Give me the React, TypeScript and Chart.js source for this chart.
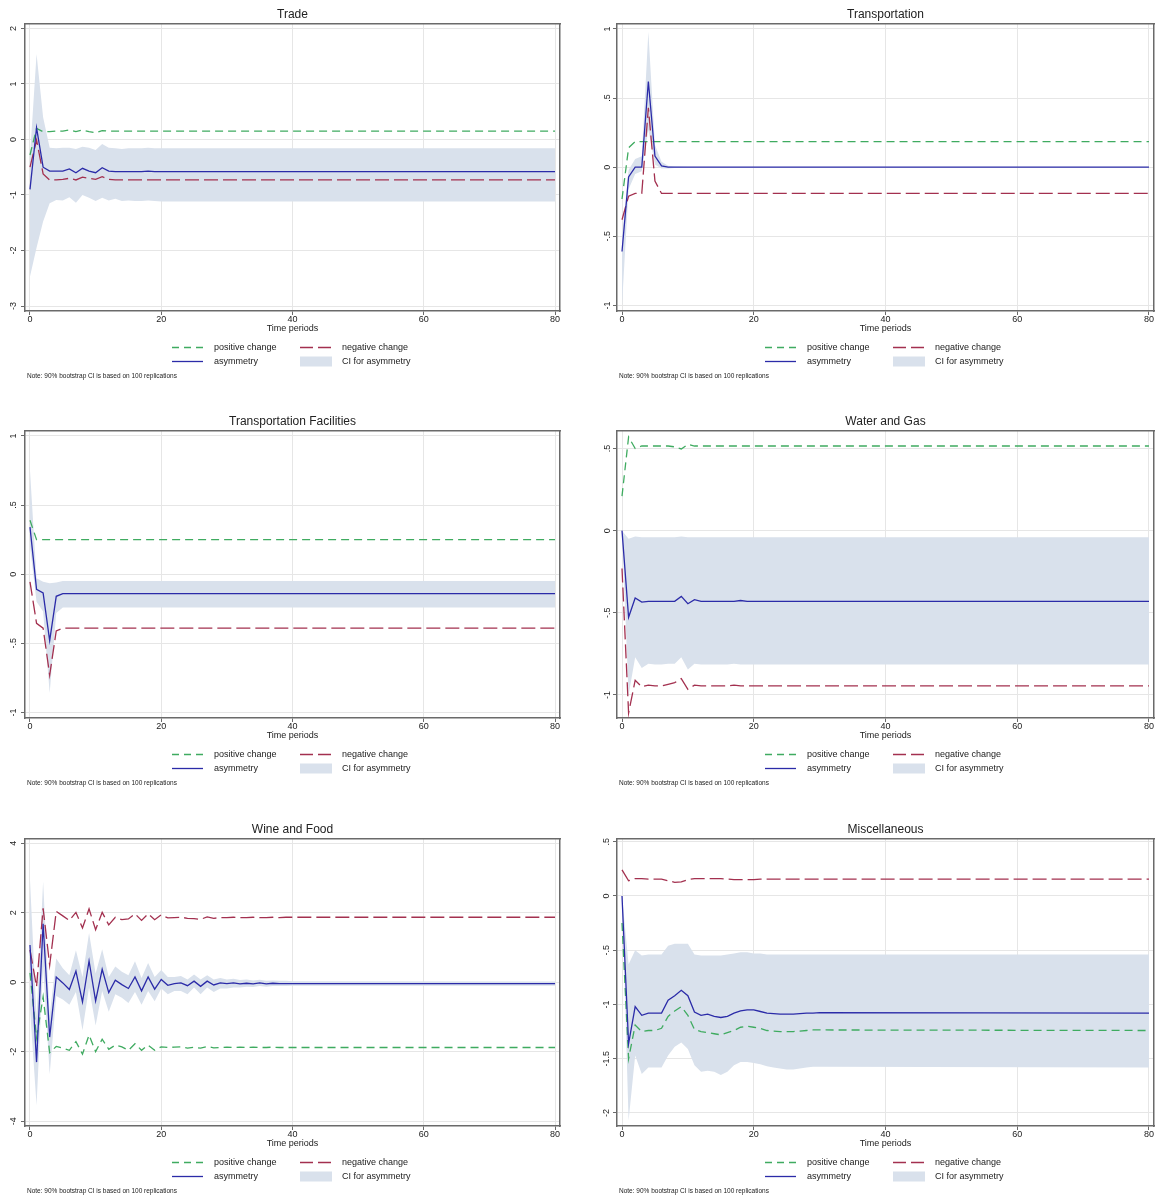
import React, { useEffect, useRef } from 'react';
import { Chart, registerables } from 'chart.js';

Chart.register(...registerables);

const FONT = '"Liberation Sans", Arial, Helvetica, sans-serif';
const GREEN = '#3fab60';
const RED = '#a3304f';
const BLUE = '#2b2ba8';
const BAND = '#d9e1ec';
const GRID = '#e6e6e6';
const AXIS = '#6a6a6a';
const TEXT = '#222';

const legendLabels = ['positive change', 'negative change', 'asymmetry', 'CI for asymmetry'];
const noteText = 'Note: 90% bootstrap CI is based on 100 replications';
const xTitle = 'Time periods';

// ---------- Trade ----------
const tradePeriods = [0, 1, 2, 3, 4, 5, 6, 7, 8, 9, 10, 11, 12, 13, 14, 15, 16, 17, 18, 19, 20, 80];
const tradePositive = [-0.28, 0.2, 0.14, 0.14, 0.15, 0.15, 0.17, 0.14, 0.17, 0.14, 0.12, 0.16, 0.15, 0.15, 0.15, 0.15, 0.15, 0.15, 0.15, 0.15, 0.15, 0.15];
const tradeNegative = [-0.5, -0.01, -0.62, -0.73, -0.73, -0.72, -0.7, -0.73, -0.68, -0.7, -0.72, -0.67, -0.72, -0.73, -0.73, -0.73, -0.73, -0.73, -0.73, -0.73, -0.73, -0.73];
const tradeAsymmetry = [-0.9, 0.21, -0.5, -0.57, -0.57, -0.57, -0.53, -0.6, -0.52, -0.57, -0.6, -0.51, -0.57, -0.58, -0.58, -0.58, -0.58, -0.58, -0.57, -0.58, -0.58, -0.58];
const tradeCiUpper = [-0.3, 1.54, 0.4, -0.15, -0.16, -0.15, -0.15, -0.17, -0.13, -0.15, -0.19, -0.08, -0.15, -0.16, -0.17, -0.16, -0.16, -0.16, -0.15, -0.16, -0.16, -0.16];
const tradeCiLower = [-2.47, -1.95, -1.48, -1.15, -1.09, -1.1, -1.04, -1.14, -1.0, -1.05, -1.11, -1.05, -1.1, -1.07, -1.11, -1.1, -1.11, -1.11, -1.1, -1.11, -1.12, -1.12];

// ---------- Transportation ----------
const transPeriods = [0, 1, 2, 3, 4, 5, 6, 7, 8, 9, 10, 80];
const transPositive = [-0.23, 0.14, 0.185, 0.185, 0.185, 0.185, 0.185, 0.185, 0.185, 0.185, 0.185, 0.185];
const transNegative = [-0.38, -0.21, -0.19, -0.19, 0.43, -0.1, -0.19, -0.19, -0.19, -0.19, -0.19, -0.19];
const transAsymmetry = [-0.61, -0.07, 0.0, 0.0, 0.62, 0.08, 0.01, 0.0, 0.0, 0.0, 0.0, 0.0];
const transCiUpper = [-0.5, -0.02, 0.06, 0.08, 0.98, 0.16, 0.04, 0.01, 0.005, 0.003, 0.002, 0.002];
const transCiLower = [-1.0, -0.16, -0.05, -0.03, 0.27, 0.02, -0.01, -0.01, -0.005, -0.003, -0.002, -0.002];

// ---------- Transportation Facilities ----------
const facPeriods = [0, 1, 2, 3, 4, 5, 6, 7, 8, 9, 10, 80];
const facPositive = [0.39, 0.25, 0.25, 0.25, 0.25, 0.25, 0.25, 0.25, 0.25, 0.25, 0.25, 0.25];
const facNegative = [-0.055, -0.355, -0.39, -0.73, -0.41, -0.39, -0.39, -0.39, -0.39, -0.39, -0.39, -0.39];
const facAsymmetry = [0.34, -0.11, -0.135, -0.48, -0.16, -0.14, -0.14, -0.14, -0.14, -0.14, -0.14, -0.14];
const facCiUpper = [0.75, -0.03, -0.055, -0.065, -0.06, -0.05, -0.05, -0.05, -0.05, -0.05, -0.05, -0.05];
const facCiLower = [0.2, -0.2, -0.27, -0.86, -0.28, -0.24, -0.24, -0.24, -0.24, -0.24, -0.24, -0.24];

// ---------- Water and Gas ----------
const waterPeriods = [0, 1, 2, 3, 4, 5, 6, 7, 8, 9, 10, 11, 12, 13, 14, 15, 16, 17, 18, 19, 20, 80];
const waterPositive = [0.21, 0.57, 0.5, 0.515, 0.515, 0.515, 0.515, 0.515, 0.51, 0.497, 0.525, 0.515, 0.515, 0.515, 0.515, 0.515, 0.515, 0.515, 0.515, 0.515, 0.515, 0.515];
const waterNegative = [-0.23, -1.11, -0.91, -0.95, -0.94, -0.945, -0.945, -0.935, -0.925, -0.9, -0.965, -0.94, -0.945, -0.945, -0.945, -0.945, -0.945, -0.94, -0.945, -0.945, -0.945, -0.945];
const waterAsymmetry = [0.0, -0.527, -0.41, -0.435, -0.43, -0.43, -0.43, -0.43, -0.43, -0.4, -0.445, -0.42, -0.43, -0.43, -0.43, -0.43, -0.43, -0.43, -0.425, -0.43, -0.43, -0.43];
const waterCiUpper = [0.0, -0.05, -0.035, -0.04, -0.04, -0.04, -0.04, -0.04, -0.04, -0.035, -0.04, -0.04, -0.04, -0.04, -0.04, -0.04, -0.04, -0.04, -0.04, -0.04, -0.04, -0.04];
const waterCiLower = [0.0, -1.0, -0.77, -0.835, -0.81, -0.815, -0.815, -0.81, -0.81, -0.77, -0.845, -0.81, -0.815, -0.815, -0.815, -0.815, -0.815, -0.81, -0.815, -0.815, -0.815, -0.815];

// ---------- Wine and Food ----------
const winePeriods = [0, 1, 2, 3, 4, 5, 6, 7, 8, 9, 10, 11, 12, 13, 14, 15, 16, 17, 18, 19, 20, 21, 22, 23, 24, 25, 26, 27, 28, 29, 30, 31, 32, 33, 34, 35, 36, 37, 38, 39, 40, 80];
const winePositive = [0.27, -1.6, -0.42, -2.03, -1.85, -1.9, -1.96, -1.71, -2.07, -1.52, -2.0, -1.64, -1.93, -1.81, -1.86, -1.96, -1.77, -1.96, -1.81, -1.96, -1.86, -1.88, -1.87, -1.86, -1.9, -1.87, -1.9, -1.85, -1.89, -1.88, -1.87, -1.88, -1.87, -1.88, -1.87, -1.88, -1.88, -1.87, -1.88, -1.88, -1.88, -1.88];
const wineNegative = [0.93, -0.13, 2.13, 0.49, 2.04, 1.91, 1.78, 2.01, 1.56, 2.11, 1.51, 2.01, 1.65, 1.87, 1.8, 1.82, 1.97, 1.78, 1.97, 1.8, 1.94, 1.85, 1.86, 1.87, 1.84, 1.83, 1.81, 1.88, 1.84, 1.86, 1.86, 1.87, 1.86, 1.86, 1.87, 1.86, 1.86, 1.87, 1.86, 1.87, 1.87, 1.87];
const wineAsymmetry = [1.07, -2.3, 1.68, -1.58, 0.15, -0.02, -0.21, 0.32, -0.57, 0.61, -0.54, 0.37, -0.3, 0.06, -0.07, -0.18, 0.15, -0.25, 0.15, -0.2, 0.08, -0.09, -0.04, -0.02, -0.1, 0.03, -0.12, 0.03, -0.08, -0.02, -0.04, -0.02, -0.05, -0.03, -0.05, -0.02, -0.05, -0.03, -0.04, -0.04, -0.04, -0.04];
const wineCiUpper = [2.95, -1.0, 2.9, -0.95, 0.68, 0.4, 0.2, 0.92, 0.15, 1.42, 0.25, 0.95, 0.15, 0.45, 0.3, 0.2, 0.6, 0.12, 0.55, 0.15, 0.35, 0.15, 0.15, 0.18, 0.08, 0.22, 0.08, 0.2, 0.08, 0.12, 0.08, 0.1, 0.06, 0.08, 0.05, 0.07, 0.04, 0.05, 0.04, 0.04, 0.03, 0.02];
const wineCiLower = [-0.75, -3.55, 0.45, -2.65, -0.4, -0.5, -0.65, -0.28, -1.38, -0.15, -1.25, -0.25, -0.85, -0.35, -0.45, -0.6, -0.28, -0.65, -0.25, -0.55, -0.18, -0.35, -0.25, -0.25, -0.35, -0.15, -0.35, -0.15, -0.28, -0.18, -0.18, -0.15, -0.15, -0.13, -0.14, -0.11, -0.13, -0.11, -0.11, -0.11, -0.1, -0.1];

// ---------- Miscellaneous ----------
const miscPeriods = [0, 1, 2, 3, 4, 5, 6, 7, 8, 9, 10, 11, 12, 13, 14, 15, 16, 17, 18, 19, 20, 21, 22, 23, 24, 25, 26, 27, 28, 29, 30, 80];
const miscPositive = [-0.25, -1.5, -1.19, -1.25, -1.24, -1.24, -1.22, -1.11, -1.06, -1.02, -1.1, -1.23, -1.25, -1.26, -1.27, -1.28, -1.26, -1.24, -1.21, -1.2, -1.21, -1.22, -1.24, -1.245, -1.25, -1.25, -1.25, -1.245, -1.24, -1.235, -1.235, -1.24];
const miscNegative = [0.24, 0.14, 0.16, 0.16, 0.155, 0.155, 0.155, 0.14, 0.125, 0.13, 0.15, 0.16, 0.16, 0.16, 0.16, 0.16, 0.155, 0.15, 0.15, 0.15, 0.15, 0.155, 0.155, 0.155, 0.155, 0.155, 0.155, 0.155, 0.155, 0.155, 0.155, 0.155];
const miscAsymmetry = [0.0, -1.36, -1.02, -1.1, -1.08, -1.08, -1.08, -0.96, -0.92, -0.87, -0.92, -1.07, -1.1, -1.09, -1.11, -1.12, -1.11, -1.08, -1.06, -1.05, -1.05, -1.065, -1.08, -1.085, -1.09, -1.09, -1.09, -1.085, -1.08, -1.08, -1.075, -1.08];
const miscCiUpper = [0.0, -0.63, -0.5, -0.55, -0.54, -0.54, -0.54, -0.46, -0.44, -0.44, -0.44, -0.54, -0.55, -0.55, -0.55, -0.55, -0.54, -0.53, -0.52, -0.52, -0.53, -0.53, -0.54, -0.54, -0.54, -0.54, -0.54, -0.54, -0.54, -0.54, -0.54, -0.54];
const miscCiLower = [0.0, -2.07, -1.47, -1.64, -1.58, -1.58, -1.58, -1.47, -1.39, -1.35, -1.41, -1.56, -1.62, -1.61, -1.62, -1.65, -1.62, -1.56, -1.53, -1.53, -1.54, -1.55, -1.57, -1.58, -1.59, -1.6, -1.6, -1.59, -1.58, -1.575, -1.575, -1.58];

type PanelDef = {
  title: string;
  periods: number[];
  pos: number[];
  neg: number[];
  asym: number[];
  upper: number[];
  lower: number[];
  yMin: number;
  yMax: number;
  yStep: number;
  yPad: number;
  left: number;
  top: number;
  width: number;
};

const panels: PanelDef[] = [
  { title: 'Trade', periods: tradePeriods, pos: tradePositive, neg: tradeNegative, asym: tradeAsymmetry, upper: tradeCiUpper, lower: tradeCiLower, yMin: -3.09, yMax: 2.09, yStep: 1, yPad: 3, left: 0, top: 0, width: 585 },
  { title: 'Transportation', periods: transPeriods, pos: transPositive, neg: transNegative, asym: transAsymmetry, upper: transCiUpper, lower: transCiLower, yMin: -1.04, yMax: 1.04, yStep: 0.5, yPad: 0, left: 592, top: 0, width: 587 },
  { title: 'Transportation Facilities', periods: facPeriods, pos: facPositive, neg: facNegative, asym: facAsymmetry, upper: facCiUpper, lower: facCiLower, yMin: -1.04, yMax: 1.04, yStep: 0.5, yPad: 1.75, left: 0, top: 407, width: 585 },
  { title: 'Water and Gas', periods: waterPeriods, pos: waterPositive, neg: waterNegative, asym: waterAsymmetry, upper: waterCiUpper, lower: waterCiLower, yMin: -1.14, yMax: 0.61, yStep: 0.5, yPad: 0, left: 592, top: 407, width: 587 },
  { title: 'Wine and Food', periods: winePeriods, pos: winePositive, neg: wineNegative, asym: wineAsymmetry, upper: wineCiUpper, lower: wineCiLower, yMin: -4.14, yMax: 4.14, yStep: 2, yPad: 3, left: 0, top: 815, width: 585 },
  { title: 'Miscellaneous', periods: miscPeriods, pos: miscPositive, neg: miscNegative, asym: miscAsymmetry, upper: miscCiUpper, lower: miscCiLower, yMin: -2.12, yMax: 0.53, yStep: 0.5, yPad: -1.75, left: 592, top: 815, width: 587 },
];

function stataFmt(v: number | string): string {
  const n = Math.round(Number(v) * 1000) / 1000;
  let s = String(n === 0 ? 0 : n);
  s = s.replace(/^0\./, '.').replace(/^-0\./, '-.');
  return s;
}

const legendPlugin = {
  id: 'stataLegend',
  afterDraw(chart: any) {
    const { ctx, chartArea } = chart;
    const cx = (chartArea.left + chartArea.right) / 2;
    const y1 = chartArea.bottom + 36.5;
    const y2 = chartArea.bottom + 50.5;
    ctx.save();
    ctx.lineWidth = 1.3;
    const sample = (x0: number, y: number, color: string, dash: number[]) => {
      ctx.beginPath();
      ctx.setLineDash(dash);
      ctx.strokeStyle = color;
      ctx.moveTo(cx + x0, y);
      ctx.lineTo(cx + x0 + 31, y);
      ctx.stroke();
    };
    sample(-120.5, y1, GREEN, [7, 5]);
    sample(7.5, y1, RED, [13, 5]);
    sample(-120.5, y2, BLUE, []);
    ctx.setLineDash([]);
    ctx.fillStyle = BAND;
    ctx.fillRect(cx + 7.5, y2 - 5, 32, 10);
    ctx.fillStyle = TEXT;
    ctx.font = `9px ${FONT}`;
    ctx.textBaseline = 'middle';
    ctx.textAlign = 'left';
    ctx.fillText(legendLabels[0], cx - 78.5, y1);
    ctx.fillText(legendLabels[1], cx + 49.5, y1);
    ctx.fillText(legendLabels[2], cx - 78.5, y2);
    ctx.fillText(legendLabels[3], cx + 49.5, y2);
    ctx.font = `6.5px ${FONT}`;
    ctx.fillText(noteText, chartArea.left + 2, chartArea.bottom + 65);
    ctx.restore();
  },
};

function Panel({ p }: { p: PanelDef }) {
  const ref = useRef<HTMLCanvasElement>(null);
  useEffect(() => {
    const pts = (vals: number[]) => p.periods.map((x, i) => ({ x, y: vals[i] }));
    const tickFont = { size: 9, family: FONT };
    const chart = new Chart(ref.current as HTMLCanvasElement, {
      type: 'line',
      data: {
        datasets: [
          { label: legendLabels[2], data: pts(p.asym), xAxisID: 'x', yAxisID: 'y', borderColor: BLUE, borderWidth: 1.3, pointRadius: 0, fill: false },
          { label: legendLabels[1], data: pts(p.neg), xAxisID: 'x', yAxisID: 'y', borderColor: RED, borderDash: [14, 5], borderWidth: 1.3, pointRadius: 0, fill: false },
          { label: legendLabels[0], data: pts(p.pos), xAxisID: 'x', yAxisID: 'y', borderColor: GREEN, borderDash: [8, 5], borderWidth: 1.3, pointRadius: 0, fill: false },
          { label: 'CI upper', data: pts(p.upper), xAxisID: 'x', yAxisID: 'y', borderColor: 'rgba(0,0,0,0)', backgroundColor: BAND, borderWidth: 0, pointRadius: 0, fill: '+1' },
          { label: 'CI lower', data: pts(p.lower), xAxisID: 'x', yAxisID: 'y', borderColor: 'rgba(0,0,0,0)', backgroundColor: BAND, borderWidth: 0, pointRadius: 0, fill: false },
        ] as any,
      },
      options: {
        responsive: false,
        animation: false,
        events: [],
        layout: { padding: { left: 0, right: 0, top: 0, bottom: 74 } },
        elements: { line: { tension: 0 } },
        plugins: {
          legend: { display: false },
          tooltip: { enabled: false },
          title: {
            display: true,
            text: p.title,
            color: TEXT,
            font: { size: 12, family: FONT, weight: 'normal' },
            padding: { top: 7, bottom: 2 },
          },
        },
        scales: {
          x: {
            type: 'linear',
            position: 'bottom',
            min: -0.76,
            max: 80.76,
            afterFit: (s: any) => { s.height = 23; },
            ticks: { stepSize: 20, includeBounds: false, autoSkip: false, maxRotation: 0, minRotation: 0, padding: -1, color: TEXT, font: tickFont, callback: (v: any) => stataFmt(v) },
            grid: { color: GRID, lineWidth: 1, tickColor: AXIS, tickLength: 4, tickWidth: 1 },
            border: { display: true, color: AXIS, width: 1.5 },
            title: { display: true, text: xTitle, color: TEXT, font: { size: 9, family: FONT }, padding: { top: 0, bottom: 0 } },
          },
          y: {
            type: 'linear',
            position: 'left',
            min: p.yMin,
            max: p.yMax,
            afterFit: (s: any) => { s.width = 25; },
            ticks: { stepSize: p.yStep, includeBounds: false, autoSkip: false, minRotation: 90, maxRotation: 90, crossAlign: 'center', padding: p.yPad, color: TEXT, font: tickFont, callback: (v: any) => stataFmt(v) },
            grid: { color: GRID, lineWidth: 1, tickColor: AXIS, tickLength: 4, tickWidth: 1 },
            border: { display: true, color: AXIS, width: 1.5 },
          },
          x2: {
            type: 'linear',
            position: 'top',
            display: true,
            afterFit: (s: any) => { s.height = 0; },
            grid: { display: false },
            ticks: { display: false },
            border: { display: true, color: AXIS, width: 1.5 },
          },
          y2: {
            type: 'linear',
            position: 'right',
            display: true,
            afterFit: (s: any) => { s.width = 25; },
            grid: { display: false },
            ticks: { display: false },
            border: { display: true, color: AXIS, width: 1.5 },
          },
        } as any,
      },
      plugins: [legendPlugin],
    });
    return () => chart.destroy();
  }, [p]);
  return <canvas ref={ref} width={p.width} height={408} style={{ display: 'block' }} />;
}

export default function App() {
  return (
    <div style={{ position: 'absolute', left: 0, top: 0, width: 1156, height: 1198, overflow: 'hidden', background: '#fff' }}>
      {panels.map((p, i) => (
        <div key={i} style={{ position: 'absolute', left: p.left, top: p.top }}>
          <Panel p={p} />
        </div>
      ))}
    </div>
  );
}
